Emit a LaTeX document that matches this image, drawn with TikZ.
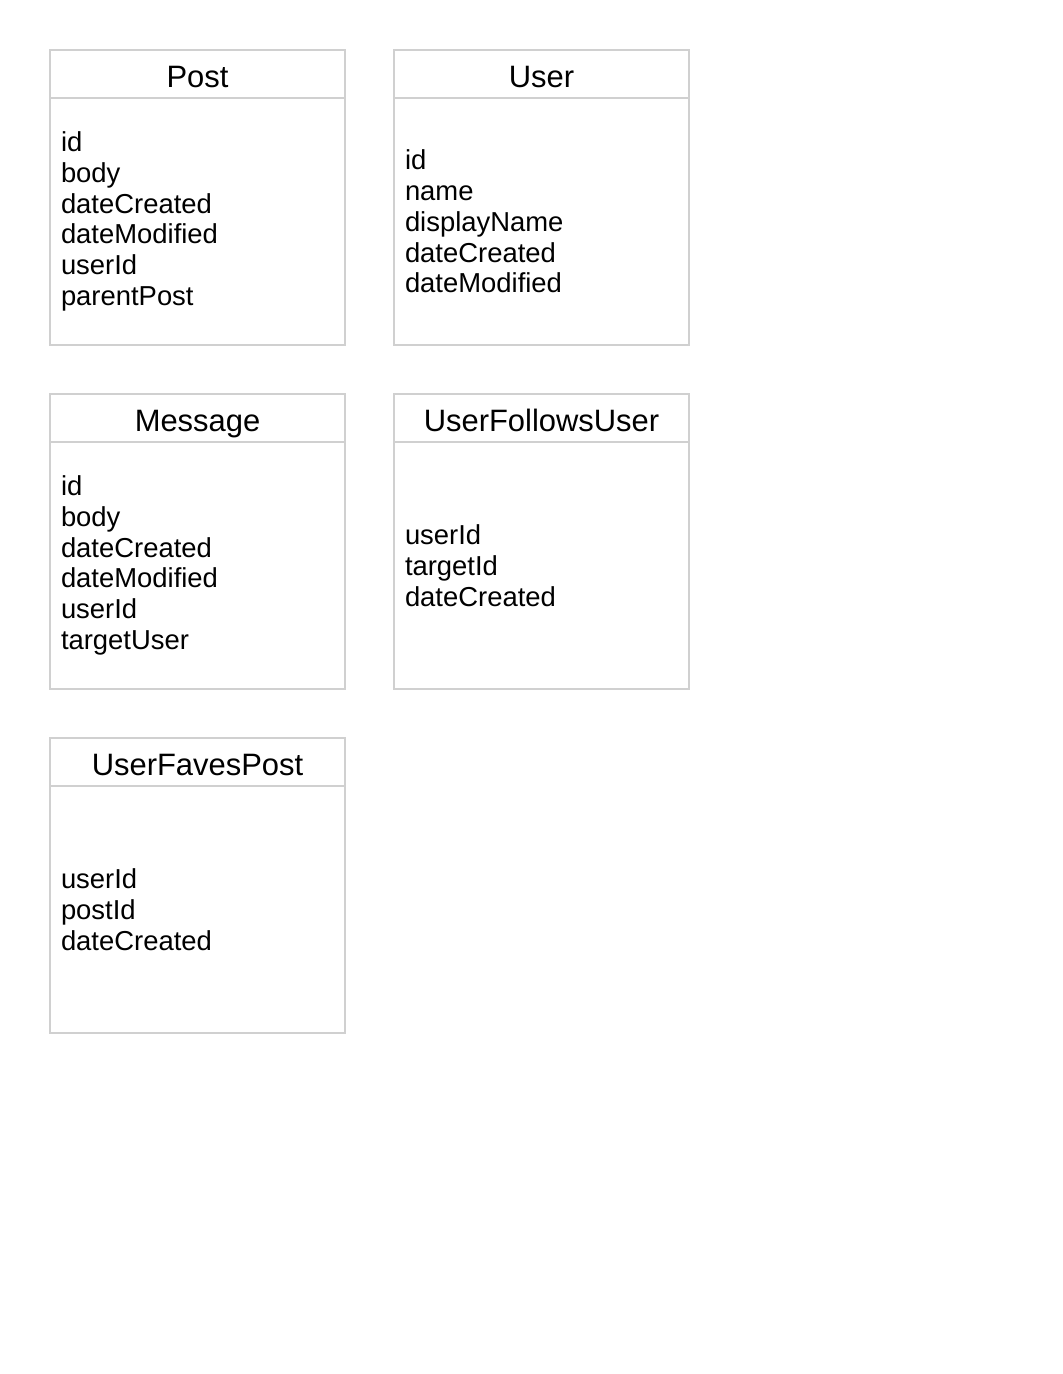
\documentclass[tikz,border=0pt]{standalone}
\usepackage{fontspec}
\setmainfont{Liberation Sans}
\usepackage{tikz}
\usetikzlibrary{positioning}

\definecolor{tableline}{HTML}{D0D0D0}

\begin{document}
\begin{tikzpicture}[
    node distance=0.98cm and 0.98cm,
    tabletitle/.style={rectangle, draw=tableline, line width=0.8pt, outer sep=0pt, minimum width=5.9cm, minimum height=0.96cm, inner sep=0pt, text height=16pt, text depth=1.2pt, font=\fontsize{17.6}{20}\selectfont},
    tablebody/.style={rectangle, draw=tableline, line width=0.8pt, outer sep=0pt, minimum width=5.9cm, minimum height=4.94cm, inner xsep=0.22cm, inner ysep=0pt, text width=5.46cm, align=left, font=\fontsize{15.6}{17.5}\selectfont}
]

\useasboundingbox (0,0) rectangle (21.24,-27.48);

% first row
\node[tabletitle, anchor=north west] (posttitle) at (1.0,-1.0) {Post};
\node[tablebody, below=0pt of posttitle] (postbody) {id\\body\\dateCreated\\dateModified\\userId\\parentPost};

\node[tabletitle, right=of posttitle] (usertitle) {User};
\node[tablebody, below=0pt of usertitle] (userbody) {id\\name\\displayName\\dateCreated\\dateModified};

% second row
\node[tabletitle, below=of postbody] (messagetitle) {Message};
\node[tablebody, below=0pt of messagetitle] (messagebody) {id\\body\\dateCreated\\dateModified\\userId\\targetUser};

\node[tabletitle, right=of messagetitle] (followstitle) {UserFollowsUser};
\node[tablebody, below=0pt of followstitle] (followsbody) {userId\\targetId\\dateCreated};

% third row
\node[tabletitle, below=of messagebody] (favestitle) {UserFavesPost};
\node[tablebody, below=0pt of favestitle] (favesbody) {userId\\postId\\dateCreated};

\end{tikzpicture}
\end{document}
